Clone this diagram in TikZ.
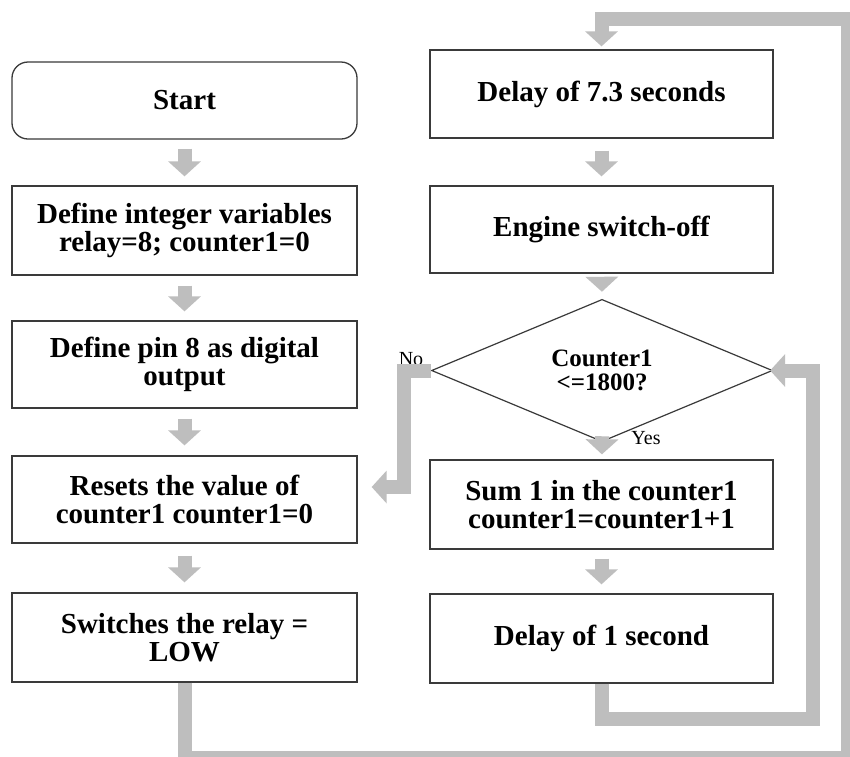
\documentclass[tikz,border=0pt]{standalone}
\usepackage{fontspec}
\setmainfont{Liberation Serif}
\usetikzlibrary{arrows.meta,shapes.geometric,calc}
\definecolor{flowgray}{HTML}{BEBEBE}
\definecolor{edgegray}{HTML}{3A3A3A}
\begin{document}
\begin{tikzpicture}[x=1pt,y=-1pt,
  box/.style={draw=edgegray, line width=1.3pt, fill=white, inner sep=0pt, align=center,
    font=\bfseries\fontsize{29}{28}\selectfont},
  lbox/.style={box, minimum width=345pt},
  rbox/.style={box, minimum width=343pt},
  decision/.style={draw=edgegray, line width=1.2pt, fill=white, shape=diamond, inner sep=0pt,
    minimum width=341pt, minimum height=103pt, align=center,
    font=\bfseries\fontsize{25}{24}\selectfont},
  flow/.style={color=flowgray, line width=14pt, line join=miter,
    -{Triangle[width=32pt,length=15pt]}},
  lbl/.style={inner sep=0pt, font=\fontsize{20}{20}\selectfont}
]
\useasboundingbox (0,0) rectangle (850,756);
\clip (0,0) rectangle (850,756);
\fill[white] (0,0) rectangle (850,756);

% left column
\node[lbox, rounded corners=16pt, minimum height=77pt] (start) at (184.5,100.5) {Start};
\node[lbox, minimum height=89pt] (def) at (184.5,230.5) {Define integer variables\\relay=8; counter1=0};
\node[lbox, minimum height=87pt] (pin) at (184.5,364.5) {Define pin 8 as digital\\output};
\node[lbox, minimum height=87pt] (reset) at (184.5,499.5) {Resets the value of\\counter1 counter1=0};
\node[lbox, minimum height=89pt] (sw) at (184.5,637.5) {Switches the relay =\\LOW};

% right column
\node[rbox, minimum height=88pt] (d73) at (601.5,94) {Delay of 7.3 seconds};
\node[rbox, minimum height=87pt] (eng) at (601.5,229.5) {Engine switch-off};
\node[decision] (dia) at (602,370.5) {Counter1\\<=1800?};
\node[rbox, minimum height=89pt] (sum) at (601.5,504.5) {Sum 1 in the counter1\\counter1=counter1+1};
\node[rbox, minimum height=89pt] (d1) at (601.5,638.5) {Delay of 1 second};

% labels
\node[lbl] (no) at (411,359) {No};
\node[lbl] (yes) at (646,438) {Yes};

% straight arrows
\draw[flow, shorten <=9pt, shorten >=9pt] (start) -- (def);
\draw[flow, shorten <=10pt, shorten >=9pt] (def) -- (pin);
\draw[flow, shorten <=10pt, shorten >=10pt] (pin) -- (reset);
\draw[flow, shorten <=12pt, shorten >=10pt] (reset) -- (sw);
\draw[flow, shorten <=12pt, shorten >=9pt] (d73) -- (eng);
\draw[flow, shorten <=10pt, shorten >=7pt] (eng) -- (dia.north);
\draw[flow, shorten <=6pt, shorten >=5pt] (dia.south) -- (sum);
\draw[flow, shorten <=9pt, shorten >=9pt] (sum) -- (d1);

% No branch
\coordinate (noturn) at (404,487);
\draw[flow, shorten >=14pt] (dia.west) -| (noturn) -- (noturn -| reset.east);

% inner loop
\coordinate (i1) at (601.5,718.5);
\coordinate (i2) at (812.5,718.5);
\coordinate (i3) at (812.5,370.5);
\draw[flow, shorten >=-3pt] (d1.south) -- (i1) -- (i2) -- (i3) -- (dia.east);

% outer loop
\coordinate (o1) at (184.5,758);
\coordinate (o2) at (848,758);
\coordinate (o3) at (848,19);
\coordinate (o4) at (601.5,19);
\draw[flow, shorten >=3pt] (sw.south) -- (o1) -- (o2) -- (o3) -- (o4) -- (d73.north);
\end{tikzpicture}
\end{document}
